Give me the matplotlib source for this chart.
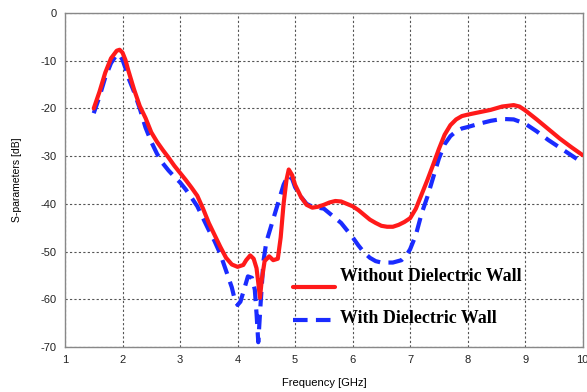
import matplotlib
matplotlib.use("Agg")
import numpy as np
import matplotlib.pyplot as plt
from matplotlib.legend_handler import HandlerLine2D

plt.rcParams["axes.unicode_minus"] = False

# S-parameters, without dielectric wall (red solid)
freq_without = [1.5, 1.6, 1.7, 1.8, 1.9, 1.95, 2.0, 2.05, 2.1, 2.2, 2.3, 2.4, 2.5, 2.6,
                2.7, 2.8, 2.9, 3.0, 3.1, 3.2, 3.3, 3.4, 3.5, 3.6, 3.7, 3.8, 3.9, 4.0,
                4.1, 4.15, 4.22, 4.28, 4.33, 4.36, 4.39, 4.42, 4.47, 4.55, 4.62, 4.7,
                4.75, 4.8, 4.85, 4.89, 4.95, 5.0, 5.1, 5.2, 5.3, 5.4, 5.5, 5.6, 5.7,
                5.8, 5.9, 6.0, 6.1, 6.2, 6.3, 6.4, 6.5, 6.6, 6.7, 6.8, 6.9, 7.0, 7.1,
                7.2, 7.3, 7.4, 7.5, 7.6, 7.7, 7.8, 7.9, 8.0, 8.2, 8.4, 8.6, 8.8, 8.9,
                9.0, 9.2, 9.4, 9.6, 9.8, 10.0]
s_without = [-20, -16.5, -12.5, -9.5, -7.9, -7.7, -8.3, -9.8, -12, -16, -19.5, -22, -25, -27,
             -28.7, -30.3, -32, -33.5, -35, -36.6, -38.3, -41, -44, -46.5, -49, -51.3, -52.7, -53.2,
             -52.8, -51.8, -50.8, -51.5, -53.5, -56.5, -59.7, -56, -52, -51, -51.8, -51.5,
             -47, -40, -35, -32.8, -34, -36, -38.5, -40.2, -40.8, -40.6, -40.2, -39.7, -39.4,
             -39.5, -40, -40.5, -41.3, -42.3, -43.3, -44, -44.6, -44.8, -44.8, -44.4, -43.8, -43, -41,
             -38, -35, -31.8, -28.5, -25.5, -23.5, -22.3, -21.6, -21.3, -20.8, -20.3, -19.6, -19.3, -19.6,
             -20.4, -22.3, -24.3, -26.3, -28.1, -29.8]

# S-parameters, with dielectric wall (blue dashed)
freq_with = [1.5, 1.6, 1.7, 1.8, 1.9, 1.95, 2.0, 2.05, 2.1, 2.2, 2.3, 2.4, 2.5, 2.6, 2.7,
             2.8, 2.9, 3.0, 3.1, 3.2, 3.3, 3.4, 3.5, 3.6, 3.7, 3.8, 3.9, 3.95, 4.0, 4.05,
             4.1, 4.18, 4.25, 4.3, 4.33, 4.36, 4.4, 4.45, 4.5, 4.6, 4.7, 4.8, 4.88, 4.95,
             5.0, 5.1, 5.2, 5.3, 5.4, 5.5, 5.6, 5.7, 5.8, 5.9, 6.0, 6.1, 6.2, 6.3, 6.4,
             6.5, 6.7, 6.85, 6.95, 7.0, 7.1, 7.2, 7.3, 7.4, 7.5, 7.6, 7.7, 7.8, 7.9, 8.0,
             8.2, 8.4, 8.6, 8.8, 9.0, 9.2, 9.4, 9.6, 9.8, 10.0]
s_with = [-21, -17.5, -13.5, -10.5, -8.7, -8.8, -9.8, -11.5, -13.5, -16.5, -20, -24, -27, -29.5, -31.5,
          -33, -34.3, -35.5, -37, -38.7, -40.5, -43, -45.5, -47.8, -50.5, -54, -57.5, -60, -61.2, -60.5,
          -58.5, -55.2, -55.5, -58, -63, -69, -61, -52, -48, -44, -40, -36, -34, -34.8,
          -36.5, -38.5, -40, -40.6, -40.8, -41, -42, -43, -44, -45.5, -47, -48.7, -50.2, -51.3, -52,
          -52.3, -52.3, -51.8, -50.5, -49.5, -46.5, -42, -38.5, -34.5, -30.5, -27.5, -25.8, -24.8, -24.2, -23.9,
          -23.2, -22.6, -22.2, -22.3, -23.2, -24.8, -26.6, -28.2, -29.8, -31.4]


class ShiftedLine(HandlerLine2D):
    # legend key drawn a little below its label, as in the original figure
    def __init__(self, dy, **kw):
        super().__init__(**kw)
        self.dy = dy

    def create_artists(self, *args, **kw):
        arts = super().create_artists(*args, **kw)
        for a in arts:
            a.set_ydata(np.asarray(a.get_ydata(), dtype=float) + self.dy)
        return arts


fig = plt.figure(figsize=(5.87, 3.92), dpi=100)
ax = fig.add_axes([0.1107, 0.1148, 0.882, 0.852])

red, = ax.plot(freq_without, s_without, color="#ff1a1a", lw=3.0, solid_capstyle="round",
               label="Without Dielectric Wall", zorder=3)
blue, = ax.plot(freq_with, s_with, color="#1a2bff", lw=3.0, dashes=(3.5, 2.0),
                label="With Dielectric Wall", zorder=2)

ax.set_xlim(1, 10)
ax.set_ylim(-70, 0)
ax.set_xticks(range(1, 11))
ax.set_yticks(range(-70, 1, 10))
ax.grid(True, color="#555555", linestyle=(0, (2, 2)), lw=0.8)
ax.tick_params(length=0, labelsize=8, colors="#222222", pad=6)
for lab in ax.get_xticklabels() + ax.get_yticklabels():
    lab.set_fontfamily("Liberation Sans")
for sp in ax.spines.values():
    sp.set_color("#888888")
    sp.set_linewidth(1.0)

ax.set_xlabel("Frequency [GHz]", fontsize=8, family="Liberation Sans", labelpad=9)
ax.set_ylabel("S-parameters [dB]", fontsize=7.5, family="Liberation Sans", labelpad=13)

leg = ax.legend(loc="upper left", bbox_to_anchor=(0.44, 0.236), frameon=False,
                borderpad=0, borderaxespad=0, handlelength=2.35, handletextpad=0.3,
                labelspacing=1.4,
                handler_map={red: ShiftedLine(-8.5), blue: ShiftedLine(-2.5)},
                prop={"family": "Liberation Serif", "weight": "bold", "size": 12.9})

fig.savefig("out.png", dpi=100)
